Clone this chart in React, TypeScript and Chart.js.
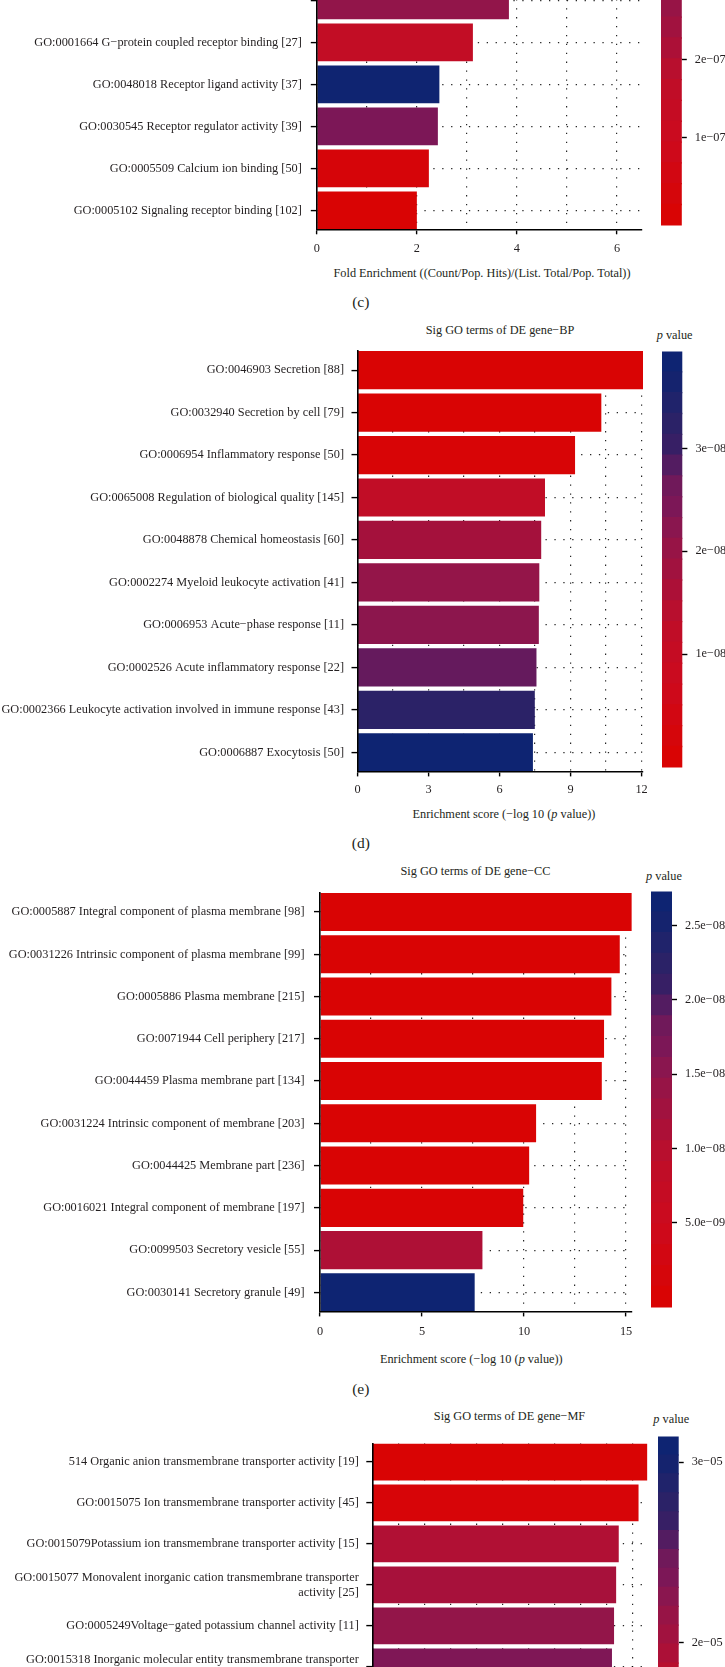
import React, { useEffect, useRef } from 'react';
import { Chart, registerables } from 'chart.js';

Chart.register(...registerables);

const FONT = "'Liberation Serif', 'Times New Roman', Times, serif";
const INK = '#231f20';
const DOT = 'rgba(0,0,0,0.85)';
const FS = 12.3;

// ---------- (c) MF, fold enrichment (upper part lies outside the picture)
const C_TERMS: (string | string[])[] = [
  '',
  'GO:0001664 G\u2212protein coupled receptor binding [27]',
  'GO:0048018 Receptor ligand activity [37]',
  'GO:0030545 Receptor regulator activity [39]',
  'GO:0005509 Calcium ion binding [50]',
  'GO:0005102 Signaling receptor binding [102]',
];
const C_FOLD = [3.84, 3.12, 2.45, 2.42, 2.24, 2.0];
const C_PVAL = [2.8e-7, 1.5e-7, 5.05e-7, 3.2e-7, 2.0e-8, 1.0e-10];
const C_P_LIMITS: [number, number] = [1.0e-10, 5.09e-7];
const C_X_TICKS = [0, 2, 4, 6];
const C_X_MAX = 6.5;
const C_CB_TICKS = [1e-7, 2e-7];
const C_CB_LABELS = ['1e\u221207', '2e\u221207'];

// ---------- (d) BP
const D_TERMS: (string | string[])[] = [
  'GO:0046903 Secretion [88]',
  'GO:0032940 Secretion by cell [79]',
  'GO:0006954 Inflammatory response [50]',
  'GO:0065008 Regulation of biological quality [145]',
  'GO:0048878 Chemical homeostasis [60]',
  'GO:0002274 Myeloid leukocyte activation [41]',
  'GO:0006953 Acute\u2212phase response [11]',
  'GO:0002526 Acute inflammatory response [22]',
  'GO:0002366 Leukocyte activation involved in immune response [43]',
  'GO:0006887 Exocytosis [50]',
];
const D_SCORE = [12.06, 10.3, 9.19, 7.92, 7.76, 7.68, 7.66, 7.56, 7.49, 7.41];
const D_PVAL = [8.7e-13, 5.0e-11, 6.5e-10, 1.2e-8, 1.74e-8, 2.09e-8, 2.19e-8, 2.75e-8, 3.24e-8, 3.84e-8];
const D_P_LIMITS: [number, number] = [8.7e-13, 3.84e-8];
const D_X_TICKS = [0, 3, 6, 9, 12];
const D_X_MAX = 12.06;
const D_CB_TICKS = [1e-8, 2e-8, 3e-8];
const D_CB_LABELS = ['1e\u221208', '2e\u221208', '3e\u221208'];

// ---------- (e) CC
const E_TERMS: (string | string[])[] = [
  'GO:0005887 Integral component of plasma membrane [98]',
  'GO:0031226 Intrinsic component of plasma membrane [99]',
  'GO:0005886 Plasma membrane [215]',
  'GO:0071944 Cell periphery [217]',
  'GO:0044459 Plasma membrane part [134]',
  'GO:0031224 Intrinsic component of membrane [203]',
  'GO:0044425 Membrane part [236]',
  'GO:0016021 Integral component of membrane [197]',
  'GO:0099503 Secretory vesicle [55]',
  'GO:0030141 Secretory granule [49]',
];
const E_SCORE = [15.28, 14.69, 14.28, 13.92, 13.81, 10.59, 10.25, 9.96, 7.96, 7.58];
const E_PVAL = [5.2e-16, 2.0e-15, 5.2e-15, 1.2e-14, 1.5e-14, 2.6e-11, 5.6e-11, 1.1e-10, 1.1e-8, 2.66e-8];
const E_P_LIMITS: [number, number] = [5.2e-16, 2.66e-8];
const E_X_TICKS = [0, 5, 10, 15];
const E_X_MAX = 15.28;
const E_CB_TICKS = [5e-9, 1e-8, 1.5e-8, 2e-8, 2.5e-8];
const E_CB_LABELS = ['5.0e\u221209', '1.0e\u221208', '1.5e\u221208', '2.0e\u221208', '2.5e\u221208'];

// ---------- (f) MF (lower part lies outside the picture)
const F_TERMS: (string | string[])[] = [
  '514 Organic anion transmembrane transporter activity [19]',
  'GO:0015075 Ion transmembrane transporter activity [45]',
  'GO:0015079Potassium ion transmembrane transporter activity [15]',
  ['GO:0015077 Monovalent inorganic cation transmembrane transporter', 'activity [25]'],
  'GO:0005249Voltage\u2212gated potassium channel activity [11]',
  ['GO:0015318 Inorganic molecular entity transmembrane transporter', 'activity'],
];
const F_SCORE = [5.28, 5.11, 4.73, 4.68, 4.64, 4.6];
const F_PVAL = [1.1e-5, 1.16e-5, 1.9e-5, 1.98e-5, 2.19e-5, 2.33e-5];
const F_P_LIMITS: [number, number] = [1.1e-5, 3.09e-5];
const F_X_TICKS = [0, 1, 2, 3, 4, 5];
const F_X_MAX = 5.28;
const F_CB_TICKS = [2e-5, 3e-5];
const F_CB_LABELS = ['2e\u221205', '3e\u221205'];

// colour scale: low p (red) -> high p (navy)
const CMAP_STOPS: [number, string][] = [
  [0, '#d90404'],
  [0.19, '#cc0a1e'],
  [0.31, '#c10d26'],
  [0.38, '#b60f30'],
  [0.45, '#a5113c'],
  [0.54, '#951548'],
  [0.62, '#7e1756'],
  [0.71, '#6b1a5c'],
  [0.76, '#3e1d65'],
  [0.83, '#2e2266'],
  [0.94, '#16236e'],
  [1, '#0e2472'],
];

function hexRgb(h: string) {
  return [1, 3, 5].map((i) => parseInt(h.slice(i, i + 2), 16));
}
function cmap(t: number) {
  const u = Math.max(0, Math.min(1, t));
  for (let i = 0; i < CMAP_STOPS.length - 1; i++) {
    const [t0, c0] = CMAP_STOPS[i];
    const [t1, c1] = CMAP_STOPS[i + 1];
    if (u <= t1) {
      const f = (u - t0) / (t1 - t0);
      const a = hexRgb(c0);
      const b = hexRgb(c1);
      const r = a.map((v, k) => Math.round(v + (b[k] - v) * f));
      return `rgb(${r[0]},${r[1]},${r[2]})`;
    }
  }
  return CMAP_STOPS[CMAP_STOPS.length - 1][1];
}

const PAD_T = 12;
const PAD_R = 14;
const X_H = 32;

type Geom = {
  plotTop: number;
  plotBottom: number;
  plotLeft: number;
  plotRight: number;
  xLabelPad: number;
  yLabelPad: number;
};

function useChart(ref: React.RefObject<HTMLCanvasElement>, make: () => any) {
  useEffect(() => {
    const chart = new Chart(ref.current as HTMLCanvasElement, make());
    return () => chart.destroy();
  }, []);
}

function BarPanel(props: {
  terms: (string | string[])[];
  values: number[];
  pvals: number[];
  pLimits: [number, number];
  xTicks: number[];
  xMax: number;
  g: Geom;
}) {
  const { terms, values, pvals, pLimits, xTicks, xMax, g } = props;
  const ref = useRef<HTMLCanvasElement>(null);
  const top = g.plotTop - PAD_T;
  const width = Math.round(g.plotRight + PAD_R);
  const height = Math.round(g.plotBottom - g.plotTop + PAD_T + X_H);
  useChart(ref, () => {
    const n = terms.length;
    const [lo, hi] = pLimits;
    const gridVals: number[] = [];
    xTicks.forEach((t, i) => {
      gridVals.push(t);
      if (i < xTicks.length - 1) gridVals.push((t + xTicks[i + 1]) / 2);
    });
    const isMajor = (v: any) => xTicks.indexOf(v) >= 0;
    return {
      type: 'bar',
      data: {
        datasets: [
          {
            data: values.map((v, i) => ({ x: v, y: i })),
            backgroundColor: pvals.map((p) => cmap((p - lo) / (hi - lo))),
            borderWidth: 0,
            barPercentage: 0.9,
            categoryPercentage: 1,
          },
        ],
      },
      options: {
        indexAxis: 'y',
        responsive: false,
        animation: false,
        events: [],
        layout: {
          padding: { top: PAD_T, right: width - g.plotRight, bottom: height - PAD_T - (g.plotBottom - g.plotTop) - X_H, left: 0 },
        },
        plugins: { legend: { display: false }, tooltip: { enabled: false }, title: { display: false } },
        scales: {
          x: {
            type: 'linear',
            position: 'bottom',
            offset: false,
            beginAtZero: false,
            min: 0,
            max: xMax,
            afterBuildTicks: (s: any) => {
              s.ticks = gridVals.map((v) => ({ value: v }));
            },
            afterFit: (s: any) => {
              s.height = X_H;
            },
            ticks: {
              autoSkip: false,
              maxRotation: 0,
              minRotation: 0,
              padding: g.xLabelPad,
              color: INK,
              font: { family: FONT, size: FS, lineHeight: 1.2 },
              callback: (v: any) => (isMajor(v) ? String(v) : ''),
            },
            grid: {
              offset: false,
              color: DOT,
              lineWidth: 1.2,
              tickLength: 5,
              tickWidth: 1.4,
              tickColor: (c: any) => (c.tick && isMajor(c.tick.value) ? '#000' : 'rgba(0,0,0,0)'),
            },
            border: { display: true, color: '#000', width: 1.6, dash: [1.3, 7.6], z: 1 },
          },
          y: {
            type: 'linear',
            position: 'left',
            offset: false,
            beginAtZero: false,
            reverse: true,
            min: -0.45,
            max: n - 0.55,
            afterBuildTicks: (s: any) => {
              s.ticks = terms.map((_, i) => ({ value: i }));
            },
            afterFit: (s: any) => {
              s.width = g.plotLeft;
            },
            ticks: {
              autoSkip: false,
              padding: g.yLabelPad,
              color: INK,
              font: { family: FONT, size: FS, lineHeight: 1.22 },
              callback: (v: any) => terms[v],
            },
            grid: { offset: false, color: DOT, lineWidth: 1.2, tickLength: 6, tickWidth: 1.4, tickColor: '#000' },
            border: { display: true, color: '#000', width: 1.6, dash: [1.3, 7.6], z: 1 },
          },
        },
      },
    };
  });
  return (
    <canvas
      ref={ref}
      width={width}
      height={height}
      style={{ position: 'absolute', left: 0, top, width, height }}
    />
  );
}

const CB_AXIS_W = 70;

function ColorBar(props: {
  pLimits: [number, number];
  ticks: number[];
  labels: string[];
  left: number;
  width: number;
  top: number;
  bottom: number;
}) {
  const { pLimits, ticks, labels, left, width, top, bottom } = props;
  const ref = useRef<HTMLCanvasElement>(null);
  const cw = Math.round(width + CB_AXIS_W);
  const ch = Math.round(bottom - top + 2 * PAD_T);
  useChart(ref, () => {
    const [lo, hi] = pLimits;
    const NB = 20;
    const bin = (hi - lo) / (NB - 1);
    const datasets = Array.from({ length: NB }, (_, k) => ({
      data: [[lo + (k - 0.5) * bin, lo + (k + 0.5) * bin + bin * 0.03]],
      backgroundColor: cmap(k / (NB - 1)),
      borderWidth: 0,
      barPercentage: 1,
      categoryPercentage: 1,
    }));
    return {
      type: 'bar',
      data: { labels: [''], datasets },
      options: {
        responsive: false,
        animation: false,
        events: [],
        layout: { padding: { top: PAD_T, bottom: PAD_T, left: 0, right: 0 } },
        plugins: { legend: { display: false }, tooltip: { enabled: false } },
        scales: {
          x: { display: false, stacked: true },
          y: {
            position: 'right',
            stacked: false,
            beginAtZero: false,
            min: lo - bin / 2,
            max: hi + bin / 2,
            afterBuildTicks: (s: any) => {
              s.ticks = ticks.map((v) => ({ value: v }));
            },
            afterFit: (s: any) => {
              s.width = cw - width;
            },
            ticks: {
              autoSkip: false,
              padding: 8,
              color: INK,
              font: { family: FONT, size: FS },
              callback: (_v: any, i: number) => labels[i],
            },
            grid: { drawOnChartArea: false, drawTicks: true, tickLength: 5, tickWidth: 1.4, tickColor: '#000' },
            border: { display: false },
          },
        },
      },
    };
  });
  return (
    <canvas
      ref={ref}
      width={cw}
      height={ch}
      style={{ position: 'absolute', left, top: top - PAD_T, width: cw, height: ch }}
    />
  );
}

function Txt(props: { x: number; y: number; size?: number; align?: 'left' | 'center'; children: React.ReactNode }) {
  const size = props.size ?? FS;
  const lh = size * 1.2;
  return (
    <div
      style={{
        position: 'absolute',
        left: props.x,
        top: props.y - lh / 2,
        fontSize: size,
        lineHeight: `${lh}px`,
        whiteSpace: 'nowrap',
        transform: props.align === 'left' ? 'none' : 'translateX(-50%)',
      }}
    >
      {props.children}
    </div>
  );
}

const ScoreTitle = () => (
  <>
    Enrichment score (−log 10 (<i>p</i> value))
  </>
);
const PValue = () => (
  <>
    <i>p</i> value
  </>
);

export default function App() {
  return (
    <div
      style={{
        position: 'absolute',
        left: 0,
        top: 0,
        width: 725,
        height: 1667,
        overflow: 'hidden',
        background: '#fff',
        fontFamily: FONT,
        color: INK,
      }}
    >
      {/* (c) */}
      <BarPanel
        terms={C_TERMS}
        values={C_FOLD}
        pvals={C_PVAL}
        pLimits={C_P_LIMITS}
        xTicks={C_X_TICKS}
        xMax={C_X_MAX}
        g={{ plotTop: -23.3, plotBottom: 229, plotLeft: 316.8, plotRight: 642, xLabelPad: 7, yLabelPad: 9 }}
      />
      <ColorBar pLimits={C_P_LIMITS} ticks={C_CB_TICKS} labels={C_CB_LABELS} left={661.4} width={20.8} top={-194.4} bottom={229} />
      <Txt x={482} y={273.3}>Fold Enrichment ((Count/Pop. Hits)/(List. Total/Pop. Total))</Txt>
      <Txt x={360.8} y={302} size={15.5}>(c)</Txt>

      {/* (d) */}
      <Txt x={500} y={330}>Sig GO terms of DE gene−BP</Txt>
      <Txt x={656.7} y={335} align="left"><PValue /></Txt>
      <BarPanel
        terms={D_TERMS}
        values={D_SCORE}
        pvals={D_PVAL}
        pLimits={D_P_LIMITS}
        xTicks={D_X_TICKS}
        xMax={D_X_MAX}
        g={{ plotTop: 348.3, plotBottom: 771.7, plotLeft: 357.5, plotRight: 643, xLabelPad: 5.5, yLabelPad: 7.5 }}
      />
      <ColorBar pLimits={D_P_LIMITS} ticks={D_CB_TICKS} labels={D_CB_LABELS} left={662.3} width={20.4} top={348.3} bottom={771.7} />
      <Txt x={504} y={814}><ScoreTitle /></Txt>
      <Txt x={360.8} y={843.3} size={15.5}>(d)</Txt>

      {/* (e) */}
      <Txt x={475.5} y={871.7}>Sig GO terms of DE gene−CC</Txt>
      <Txt x={646} y={876} align="left"><PValue /></Txt>
      <BarPanel
        terms={E_TERMS}
        values={E_SCORE}
        pvals={E_PVAL}
        pLimits={E_P_LIMITS}
        xTicks={E_X_TICKS}
        xMax={E_X_MAX}
        g={{ plotTop: 888.3, plotBottom: 1311.7, plotLeft: 320, plotRight: 631.8, xLabelPad: 8.4, yLabelPad: 9.5 }}
      />
      <ColorBar pLimits={E_P_LIMITS} ticks={E_CB_TICKS} labels={E_CB_LABELS} left={651} width={21} top={888.3} bottom={1311.7} />
      <Txt x={471.3} y={1359.3}><ScoreTitle /></Txt>
      <Txt x={360.8} y={1389.3} size={15.5}>(e)</Txt>

      {/* (f) */}
      <Txt x={509.5} y={1416}>Sig GO terms of DE gene−MF</Txt>
      <Txt x={653.3} y={1419.3} align="left"><PValue /></Txt>
      <BarPanel
        terms={F_TERMS}
        values={F_SCORE}
        pvals={F_PVAL}
        pLimits={F_P_LIMITS}
        xTicks={F_X_TICKS}
        xMax={F_X_MAX}
        g={{ plotTop: 1433.3, plotBottom: 1685.6, plotLeft: 372.3, plotRight: 647.4, xLabelPad: 6, yLabelPad: 7.5 }}
      />
      <ColorBar pLimits={F_P_LIMITS} ticks={F_CB_TICKS} labels={F_CB_LABELS} left={658.3} width={20.7} top={1433.3} bottom={1818.7} />
    </div>
  );
}
